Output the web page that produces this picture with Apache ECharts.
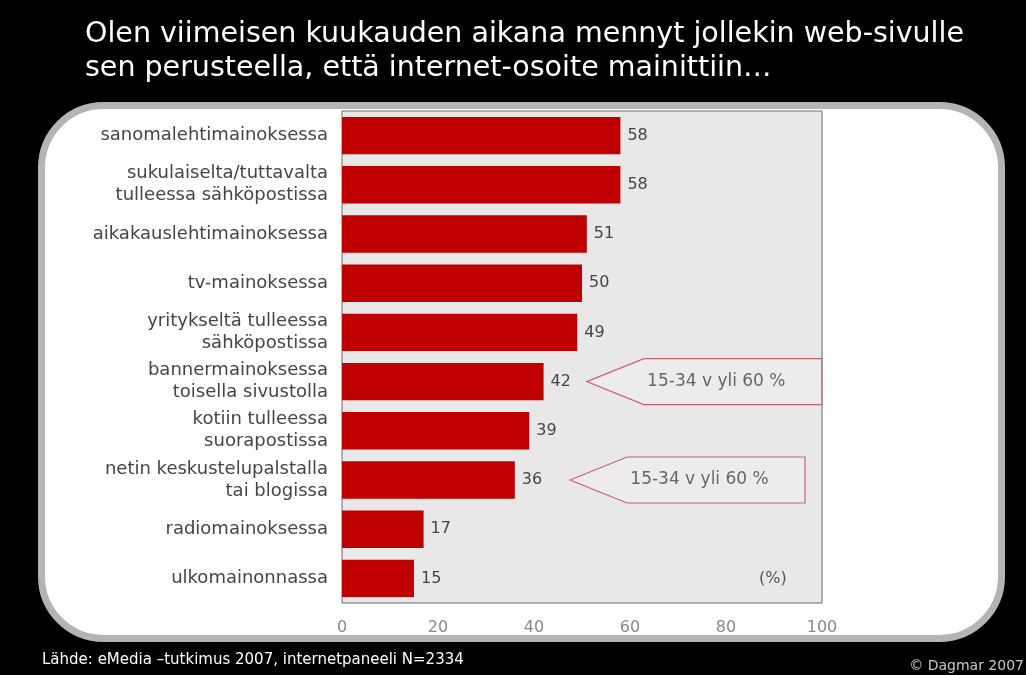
<!DOCTYPE html>
<html>
<head>
<meta charset="utf-8">
<script src="https://cdn.jsdelivr.net/npm/echarts@6/dist/echarts.min.js"></script>
<style>
  html, body { margin: 0; padding: 0; background: #000; }
  #chart { width: 1026px; height: 675px; }
</style>
</head>
<body>
<div id="chart"></div>
<script>
// kategoriat ja arvot (%)
var categories = [
  'sanomalehtimainoksessa',
  'sukulaiselta/tuttavalta\ntulleessa sähköpostissa',
  'aikakauslehtimainoksessa',
  'tv-mainoksessa',
  'yritykseltä tulleessa\nsähköpostissa',
  'bannermainoksessa\ntoisella sivustolla',
  'kotiin tulleessa\nsuorapostissa',
  'netin keskustelupalstalla\ntai blogissa',
  'radiomainoksessa',
  'ulkomainonnassa'
];
var values = [58, 58, 51, 50, 49, 42, 39, 36, 17, 15];
var xTicks = [0, 20, 40, 60, 80, 100];
// huomautukset: mihin kategoriaan, kärjen arvo
var calloutCats = [5, 7];
var calloutTips = [51, 47.5];
var calloutText = '15-34 v yli 60 %';

var myChart = echarts.init(document.getElementById('chart'));

var option = {
  backgroundColor: '#000',
  animation: false,
  grid: {
    left: 342,
    top: 111,
    width: 480,
    height: 492,
    show: true,
    backgroundColor: '#e8e8e8',
    borderColor: '#6a6a6a',
    borderWidth: 1,
    z: 3
  },
  xAxis: {
    type: 'value',
    min: xTicks[0],
    max: xTicks[xTicks.length - 1],
    interval: 20,
    axisLine: { show: false },
    axisTick: { show: false },
    splitLine: { show: false },
    axisLabel: {
      margin: 17,
      color: '#8a8a8a',
      fontSize: 16,
      fontFamily: 'DejaVu Sans'
    }
  },
  yAxis: {
    type: 'category',
    inverse: true,
    data: categories,
    axisLine: { show: false },
    axisTick: { show: false },
    axisLabel: {
      margin: 14,
      color: '#454545',
      fontSize: 18,
      lineHeight: 22,
      align: 'right',
      fontFamily: 'DejaVu Sans'
    }
  },
  series: [{
    type: 'bar',
    data: values,
    barCategoryGap: '24%',
    z: 4,
    itemStyle: { color: '#c00000' },
    label: {
      show: true,
      position: 'right',
      distance: 7,
      color: '#454545',
      fontSize: 16,
      fontFamily: 'DejaVu Sans'
    }
  }],
  graphic: [
    {
      type: 'rect',
      z: 0,
      silent: true,
      shape: { x: 41.5, y: 105.5, width: 960, height: 533, r: 62 },
      style: { fill: '#fff', stroke: '#b4b4b4', lineWidth: 7 }
    },
    {
      type: 'text',
      left: 85,
      top: 18,
      z: 10,
      style: {
        text: 'Olen viimeisen kuukauden aikana mennyt jollekin web-sivulle\nsen perusteella, että internet-osoite mainittiin…',
        fill: '#fff',
        font: '28.5px "DejaVu Sans"',
        lineHeight: 34
      }
    },
    {
      type: 'text',
      left: 42,
      top: 653,
      z: 10,
      style: {
        text: 'Lähde: eMedia –tutkimus 2007, internetpaneeli N=2334',
        fill: '#fff',
        font: '15px "DejaVu Sans"'
      }
    },
    {
      type: 'text',
      right: 2,
      top: 659,
      z: 10,
      style: {
        text: '© Dagmar 2007',
        fill: '#c8c8c8',
        font: '14px "DejaVu Sans"'
      }
    },
    {
      type: 'text',
      left: 759,
      top: 571,
      z: 10,
      style: {
        text: '(%)',
        fill: '#555',
        font: '16px "DejaVu Sans"'
      }
    }
  ]
};

myChart.setOption(option);

// huomautusnuolet sijoitetaan akselien mukaan
var extra = [];
calloutCats.forEach(function (ci, i) {
  var tip = myChart.convertToPixel({ gridIndex: 0 }, [calloutTips[i], ci]);
  var bodyStart = tip[0] + 57;
  var bodyEnd = bodyStart + 178;
  var h = 23;
  extra.push({
    type: 'polygon',
    z: 8,
    silent: true,
    shape: {
      points: [
        [tip[0], tip[1]],
        [bodyStart, tip[1] - h],
        [bodyEnd, tip[1] - h],
        [bodyEnd, tip[1] + h],
        [bodyStart, tip[1] + h]
      ]
    },
    style: { fill: '#ececec', stroke: '#c8606a', lineWidth: 1.2 }
  });
  extra.push({
    type: 'text',
    z: 9,
    x: (tip[0] + bodyEnd) / 2 + 12,
    y: tip[1],
    style: {
      text: calloutText,
      fill: '#666',
      font: '17px "DejaVu Sans"',
      align: 'center',
      verticalAlign: 'middle'
    }
  });
});
myChart.setOption({ graphic: option.graphic.concat(extra) });
</script>
</body>
</html>
